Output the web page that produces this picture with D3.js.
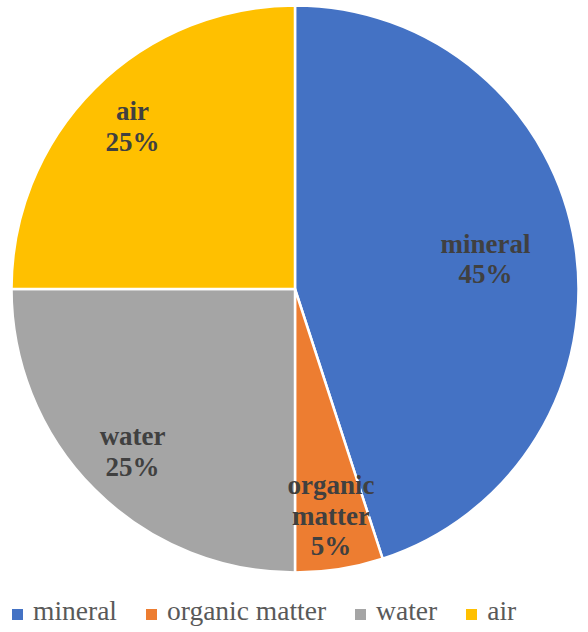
<!DOCTYPE html>
<html>
<head>
<meta charset="utf-8">
<script src="https://cdn.jsdelivr.net/npm/d3@7"></script>
<style>
  html, body { margin: 0; padding: 0; background: #fff; }
  #wrap { position: relative; width: 588px; height: 632px; }
  svg { display: block; position: absolute; left: 0; top: 0; }
  .lbl, .legend { position: absolute; font-family: "Liberation Serif", "Times New Roman", serif; white-space: nowrap; }
  .lbl { font-weight: bold; color: #404040; text-align: center; transform: translateX(-50%); }
  .legend { color: #595959; display: flex; align-items: baseline; }
  .legend .sw { display: inline-block; width: 11px; height: 11px; margin: 0 10px 2px 0; }
  .legend .item { display: inline-flex; align-items: baseline; margin-right: 29px; }
</style>
</head>
<body>
<div id="wrap"><svg id="chart" width="588" height="632"></svg></div>
<script>
// Soil composition by volume
const categories = ["mineral", "organic matter", "water", "air"];
const percentages = [45, 5, 25, 25];
const labelLines = [["mineral"], ["organic", "matter"], ["water"], ["air"]];
const colors = ["#4472C4", "#ED7D31", "#A5A5A5", "#FFC000"];

const width = 588, height = 632;
const cx = 295, cy = 289, radius = 283.5;

const wrap = d3.select("#wrap");
const svg = d3.select("#chart");
const g = svg.append("g").attr("transform", `translate(${cx},${cy})`);

const data = categories.map((c, i) => ({ name: c, value: percentages[i], lines: labelLines[i], color: colors[i] }));

const pie = d3.pie().value(d => d.value).sort(null);
const arc = d3.arc().innerRadius(0).outerRadius(radius);
const arcs = pie(data);

g.selectAll("path.slice")
  .data(arcs)
  .join("path")
  .attr("class", "slice")
  .attr("d", arc)
  .attr("fill", d => d.data.color)
  .attr("stroke", "#fff")
  .attr("stroke-width", 2.5)
  .attr("stroke-linejoin", "round");

// Data labels: the big slice gets its label closer to the center
const labelFont = 27, lineH = 30.5;
const baseInLine = (lineH - labelFont * 1.107) / 2 + labelFont * 0.891;
arcs.forEach(d => {
  const frac = d.data.value >= 40 ? 0.68 : 0.81;
  const la = d3.arc().innerRadius(radius * frac).outerRadius(radius * frac);
  const [x, y] = la.centroid(d);
  const lines = d.data.lines.concat([d.data.value + "%"]);
  const n = lines.length;
  const firstBase = cy + y - (n - 1) / 2 * lineH + 0.35 * labelFont;
  const div = wrap.append("div")
    .attr("class", "lbl")
    .style("left", (cx + x) + "px")
    .style("top", (firstBase - baseInLine) + "px")
    .style("font-size", labelFont + "px")
    .style("line-height", lineH + "px");
  lines.forEach((s, i) => {
    if (i) div.append("br");
    div.append("span").text(s);
  });
});

// Legend
const legFont = 27.5, legLine = 30, legBase = 620;
const legBaseInLine = (legLine - legFont * 1.107) / 2 + legFont * 0.891;
const legend = wrap.append("div")
  .attr("class", "legend")
  .style("left", "12px")
  .style("top", (legBase - legBaseInLine) + "px")
  .style("font-size", legFont + "px")
  .style("line-height", legLine + "px");
data.forEach(d => {
  const item = legend.append("span").attr("class", "item");
  item.append("span").attr("class", "sw").style("background", d.color);
  item.append("span").text(d.name);
});
</script>
</body>
</html>
